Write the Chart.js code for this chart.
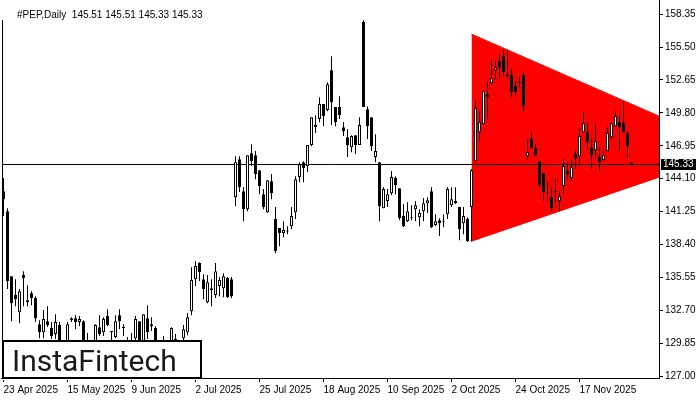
<!DOCTYPE html>
<html lang="en">
<head>
<meta charset="UTF-8">
<title>#PEP,Daily</title>
<script src="https://cdn.jsdelivr.net/npm/chart.js@4"></script>
<style>
  html, body { margin: 0; padding: 0; background: #fff; }
  canvas { display: block; }
</style>
</head>
<body>
<canvas id="chart" width="700" height="400"></canvas>
<script>
// header info
const symbolTitle = '#PEP,Daily';
const lastBar = [145.51, 145.51, 145.33, 145.33];
const lastPrice = 145.33;

// daily candles, 23 Apr 2025 .. early Dec 2025
const openP = [
  143.02, 141.29, 135.66, 134.02, 132.54, 135.75, 133.58, 134.19, 133.76, 131.50,
  130.81, 131.76, 131.16, 130.64, 131.42, 129.77, 129.77, 132.02, 132.02, 131.68,
  131.76, 130.03, 129.17, 129.77, 131.24, 130.81, 132.20, 130.90, 130.38, 132.28,
  131.24, 130.03, 129.34, 130.29, 131.76, 129.77, 132.02, 131.33, 131.16, 129.77,
  129.34, 129.51, 129.77, 130.21, 129.51, 130.29, 130.81, 132.63, 135.40, 136.79,
  135.40, 133.41, 134.62, 134.02, 134.80, 134.62, 135.49, 135.40, 142.50, 145.79,
  143.02, 141.46, 146.31, 146.14, 144.84, 142.76, 141.20, 143.89, 140.60, 139.82,
  139.39, 139.56, 139.99, 141.20, 144.24, 145.53, 145.19, 147.01, 148.56, 149.26,
  150.56, 150.04, 153.50, 150.30, 150.30, 148.56, 147.70, 146.83, 147.87, 147.01,
  157.66, 150.12, 149.43, 145.97, 145.53, 141.55, 142.16, 142.85, 144.15, 143.28,
  140.86, 140.42, 140.77, 141.46, 140.77, 141.29, 141.98, 143.02, 140.08, 140.51,
  140.42, 141.03, 141.81, 142.16, 141.64, 140.25, 140.60, 141.64, 145.62, 148.13,
  148.82, 151.42, 152.38, 153.50, 154.28, 154.71, 153.15, 153.07, 152.12, 152.46,
  153.07, 146.05, 147.61, 146.75, 145.62, 144.58, 142.94, 142.50, 143.02, 142.16,
  143.46, 144.76, 144.15, 146.23, 146.05, 148.13, 148.13, 146.75, 146.57, 145.97,
  145.71, 146.49, 147.70, 148.65, 149.00, 148.91, 148.05, 145.51
];
const highP = [
  144.15, 141.55, 135.66, 135.40, 134.54, 136.09, 134.88, 134.36, 133.93, 131.85,
  132.72, 133.06, 131.68, 132.37, 131.68, 130.03, 131.68, 132.11, 132.28, 132.20,
  131.85, 130.73, 130.03, 131.50, 132.28, 132.11, 132.80, 130.90, 132.28, 132.80,
  131.50, 130.38, 130.73, 132.20, 131.76, 132.37, 133.15, 132.11, 131.33, 130.03,
  130.47, 130.12, 131.24, 130.64, 130.12, 131.42, 132.46, 136.44, 136.96, 136.87,
  135.83, 135.75, 135.40, 136.79, 135.58, 135.92, 135.58, 135.58, 146.05, 146.05,
  143.37, 146.14, 147.09, 146.49, 144.84, 143.20, 143.97, 144.50, 141.64, 139.82,
  140.42, 139.99, 141.64, 144.32, 145.53, 145.62, 147.01, 149.43, 149.60, 151.16,
  150.56, 152.46, 154.71, 150.30, 151.25, 149.00, 148.39, 147.87, 147.87, 149.43,
  157.83, 150.38, 149.43, 147.96, 145.53, 143.37, 143.20, 144.76, 144.32, 143.28,
  141.90, 142.07, 141.81, 142.16, 141.46, 142.42, 142.50, 143.37, 141.03, 140.68,
  141.03, 143.37, 143.37, 143.37, 141.64, 141.64, 140.77, 144.93, 150.90, 149.95,
  151.68, 152.55, 154.45, 154.28, 154.89, 155.32, 155.23, 153.59, 152.55, 152.98,
  153.33, 147.53, 148.22, 147.09, 145.62, 144.58, 143.80, 143.37, 144.15, 142.94,
  145.88, 145.62, 145.79, 146.57, 148.56, 149.95, 149.00, 147.53, 148.91, 146.83,
  146.57, 148.56, 149.00, 149.95, 149.60, 150.82, 148.22, 145.51
];
const lowP = [
  140.86, 134.54, 131.76, 133.06, 131.59, 133.06, 133.06, 133.15, 131.68, 130.29,
  130.29, 131.25, 130.21, 130.21, 129.34, 128.91, 129.51, 131.68, 131.07, 131.33,
  129.34, 128.91, 128.91, 129.51, 130.47, 130.47, 131.33, 129.77, 130.29, 131.07,
  130.47, 129.17, 128.91, 130.03, 129.51, 129.51, 130.21, 130.90, 129.51, 128.91,
  129.17, 129.17, 129.51, 129.34, 129.17, 129.95, 130.55, 132.28, 134.80, 135.23,
  133.67, 133.32, 133.06, 133.76, 133.93, 133.84, 133.76, 133.76, 141.72, 142.94,
  140.42, 141.29, 145.19, 144.06, 142.76, 141.46, 141.12, 142.33, 137.65, 138.26,
  139.04, 139.30, 139.73, 140.60, 143.80, 143.80, 144.67, 146.92, 148.05, 148.99,
  148.65, 149.95, 148.74, 148.65, 149.26, 147.79, 145.97, 146.40, 146.23, 147.01,
  150.30, 147.53, 146.49, 145.53, 140.42, 141.55, 141.64, 142.68, 142.76, 140.51,
  139.91, 140.34, 140.51, 140.42, 139.99, 140.42, 141.12, 139.82, 139.99, 139.13,
  139.90, 140.60, 141.64, 141.90, 138.78, 139.30, 138.61, 138.69, 145.62, 147.35,
  148.82, 149.26, 152.12, 152.72, 152.81, 152.98, 152.81, 151.16, 151.25, 152.03,
  149.95, 145.79, 146.75, 145.97, 143.37, 142.16, 142.07, 141.29, 142.07, 141.29,
  142.76, 144.06, 143.89, 144.93, 145.27, 148.13, 146.66, 144.93, 145.79, 144.76,
  145.62, 146.49, 147.53, 148.65, 146.57, 148.13, 145.88, 145.33
];
const closeP = [
  142.33, 135.23, 133.32, 133.67, 134.36, 135.49, 133.41, 133.76, 132.02, 130.81,
  131.94, 131.42, 130.47, 131.68, 129.77, 129.17, 131.50, 131.85, 131.68, 131.94,
  129.77, 129.17, 129.77, 131.42, 130.64, 131.94, 131.42, 130.81, 131.76, 131.76,
  131.16, 129.34, 130.03, 131.94, 129.77, 132.37, 130.81, 131.50, 129.77, 129.17,
  130.03, 129.95, 131.16, 129.69, 130.03, 131.07, 132.11, 135.32, 136.53, 136.01,
  134.54, 135.14, 134.45, 136.09, 135.32, 135.66, 133.84, 133.93, 145.53, 143.37,
  141.46, 146.14, 145.62, 144.50, 143.46, 141.64, 143.97, 142.85, 137.83, 139.39,
  139.65, 139.52, 140.86, 144.06, 145.36, 145.01, 147.01, 149.43, 148.74, 150.56,
  149.52, 152.29, 150.73, 149.00, 149.60, 148.22, 147.01, 147.79, 147.01, 148.74,
  150.30, 148.65, 146.92, 146.49, 141.72, 143.20, 142.76, 144.24, 143.54, 140.68,
  139.99, 141.29, 140.68, 141.81, 141.12, 141.98, 142.24, 139.90, 140.42, 140.25,
  140.38, 143.20, 142.33, 141.98, 139.73, 140.86, 138.69, 144.84, 150.21, 149.00,
  151.68, 151.16, 152.81, 153.76, 153.76, 153.33, 152.98, 151.60, 151.60, 152.38,
  150.38, 146.40, 146.75, 146.14, 143.54, 142.94, 142.89, 141.55, 142.94, 142.59,
  145.19, 144.50, 145.10, 145.88, 147.79, 148.91, 147.27, 146.14, 147.35, 145.53,
  146.14, 148.05, 148.91, 149.52, 148.56, 148.13, 146.92, 145.33
];

// axis ticks
const xTickIdx = [0, 16, 32, 48, 64, 80, 96, 112, 128, 144];
const xTickLabels = ['23 Apr 2025', '15 May 2025', '9 Jun 2025', '2 Jul 2025', '25 Jul 2025',
  '18 Aug 2025', '10 Sep 2025', '2 Oct 2025', '24 Oct 2025', '17 Nov 2025'];
const yTicks = [127.00, 129.85, 132.70, 135.55, 138.40, 141.25, 144.10, 146.95, 149.80, 152.65, 155.50, 158.35];

// bearish triangle pattern (bar index, price)
const triangleX = [117, 164];
const triangleTop = [156.62, 149.50];
const triangleBottom = [138.69, 144.25];

const yMin = 126.840, yMax = 159.576;
const xMin = -0.5, xMax = 163.875;

Chart.defaults.font.family = '"Liberation Sans", Arial, sans-serif';
Chart.defaults.font.size = 10;
Chart.defaults.color = '#000';

const idx = openP.map((_, i) => i);
const bodyColors = idx.map(i => closeP[i] >= openP[i] ? '#ffffff' : '#000000');

const decor = {
  id: 'decor',
  afterDraw(chart) {
    const c = chart.ctx;
    const area = chart.chartArea;
    const py = chart.scales.y.getPixelForValue(lastPrice);
    c.save();
    // left frame line
    c.fillStyle = '#000';
    c.fillRect(2, 20, 1, area.bottom - 20 + 1);
    // header
    c.font = '10px "Liberation Sans", Arial, sans-serif';
    c.textBaseline = 'alphabetic';
    c.textAlign = 'left';
    c.fillText(symbolTitle + '  ' + lastBar.map(v => v.toFixed(2)).join(' '), 17, 18);
    // price tag on the axis
    c.fillRect(661, Math.floor(py) - 5, 35, 11);
    c.fillStyle = '#fff';
    c.textBaseline = 'middle';
    c.fillText(lastPrice.toFixed(2), 663, Math.floor(py) + 0.5);
    // logo box
    c.fillStyle = '#fff';
    c.fillRect(2, 340, 200, 40);
    c.strokeStyle = '#000';
    c.lineWidth = 2;
    c.strokeRect(3, 341, 198, 37);
    c.fillStyle = '#1a1a1a';
    c.font = '30px Roboto, "Open Sans", sans-serif';
    c.textBaseline = 'alphabetic';
    c.fillText('InstaFintech', 12, 371);
    c.restore();
  }
};

new Chart(document.getElementById('chart'), {
  type: 'bar',
  data: {
    datasets: [
      {
        type: 'line',
        data: triangleX.map((x, i) => ({ x: x, y: triangleTop[i] })),
        borderColor: '#ff0000', borderWidth: 1, pointRadius: 0, fill: false, order: 10
      },
      {
        type: 'line',
        data: triangleX.map((x, i) => ({ x: x, y: triangleBottom[i] })),
        borderColor: '#ff0000', borderWidth: 1, pointRadius: 0,
        fill: '-1', backgroundColor: '#ff0000', order: 9
      },
      {
        type: 'line',
        data: [{ x: xMin, y: lastPrice }, { x: 164, y: lastPrice }],
        borderColor: '#000', borderWidth: 1, pointRadius: 0, fill: false, order: 5
      },
      {
        // wicks
        data: idx.map(i => ({ x: i, y: [lowP[i], highP[i]] })),
        backgroundColor: '#000', borderWidth: 0, barThickness: 1,
        grouped: false, inflateAmount: 0, minBarLength: 1, order: 1
      },
      {
        // bodies
        data: idx.map(i => ({ x: i, y: [openP[i], closeP[i]] })),
        backgroundColor: bodyColors, borderColor: '#000', borderWidth: 1,
        borderSkipped: false, barThickness: 3, grouped: false,
        inflateAmount: 0, minBarLength: 1, order: 0
      }
    ]
  },
  options: {
    responsive: false,
    animation: false,
    events: [],
    layout: { padding: { left: 1.5, top: 0, right: 0, bottom: 0 } },
    plugins: { legend: { display: false }, tooltip: { enabled: false } },
    scales: {
      x: {
        type: 'linear', min: xMin, max: xMax, offset: false, bounds: 'data',
        grid: { offset: false, drawOnChartArea: false, drawTicks: true, tickLength: 4, color: '#000' },
        border: { color: '#000' },
        ticks: {
          autoSkip: false, maxRotation: 0, align: 'start', padding: 2,
          callback: v => xTickLabels[xTickIdx.indexOf(v)]
        },
        afterBuildTicks: s => { s.ticks = xTickIdx.map(v => ({ value: v })); },
        afterFit: s => { s.height = 22; s.paddingLeft = 0; s.paddingRight = 0; }
      },
      y: {
        position: 'right', min: yMin, max: yMax, bounds: 'data', beginAtZero: false,
        grid: { drawOnChartArea: false, drawTicks: true, tickLength: 4, color: '#000' },
        border: { color: '#000' },
        ticks: { autoSkip: false, padding: 2, callback: v => v.toFixed(2) },
        afterBuildTicks: s => { s.ticks = yTicks.map(v => ({ value: v })); },
        afterFit: s => { s.width = 41; s.paddingTop = 0; s.paddingBottom = 0; }
      }
    }
  },
  plugins: [decor]
});
</script>
</body>
</html>
